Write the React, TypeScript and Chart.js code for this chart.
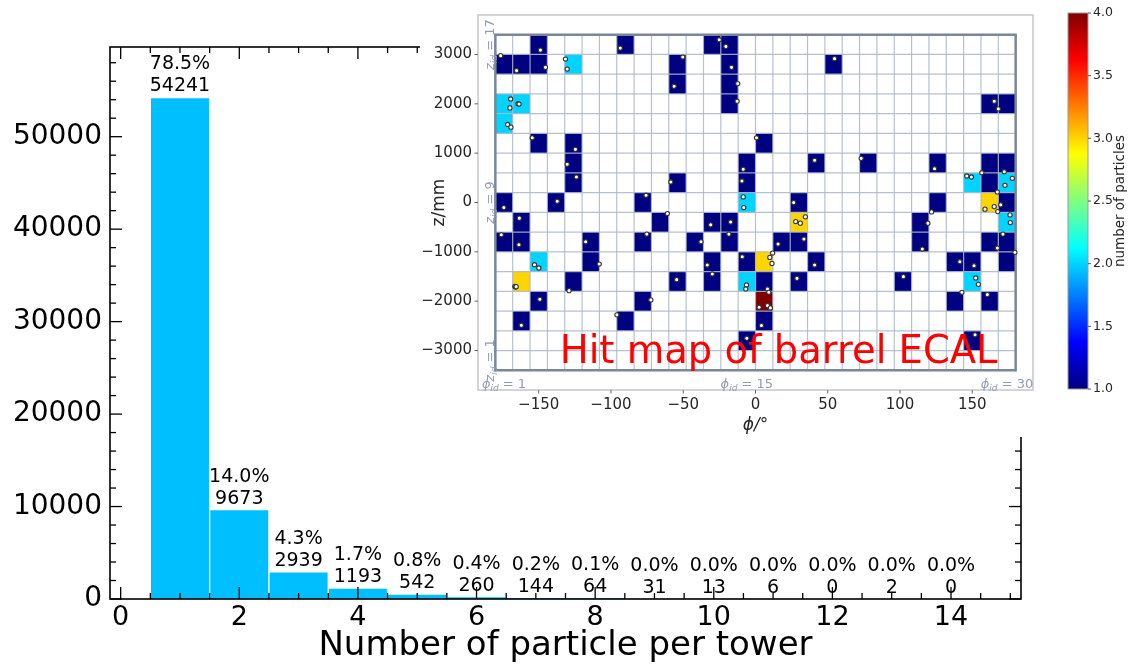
import React, { useEffect, useRef } from "react";
import { Chart, registerables } from "chart.js";

Chart.register(...registerables);

const FONT = '"DejaVu Sans", "Liberation Sans", sans-serif';
Chart.defaults.font.family = FONT;

// ---------- Histogram data ----------
const binCenters = [1, 2, 3, 4, 5, 6, 7, 8, 9, 10, 11, 12, 13, 14];
const binCounts = [54241, 9673, 2939, 1193, 542, 260, 144, 64, 31, 13, 6, 0, 2, 0];
const histXTicks = [0, 2, 4, 6, 8, 10, 12, 14];
const histYTicks = [0, 10000, 20000, 30000, 40000, 50000];
const histXLabel = "Number of particle per tower";

// ---------- Hit map data ----------
const phiStart = -180;
const phiStep = 12;
const phiCount = 30;
const zStart = -3400;
const zStep = 400;
const zCount = 17;

const cellPhiId = [
  3, 8, 13, 14,
  1, 2, 3, 5, 11, 14, 20,
  11, 14,
  1, 2, 14, 29, 30,
  1,
  3, 5, 16,
  5, 15, 19, 22, 26, 29, 30,
  5, 11, 15, 28, 29, 30,
  1, 4, 9, 15, 18, 26, 29, 30,
  2, 10, 13, 14, 18, 25, 30,
  1, 2, 6, 9, 12, 14, 17, 18, 25, 29, 30,
  3, 6, 13, 15, 16, 19, 27, 28, 30,
  2, 5, 11, 13, 15, 16, 18, 24, 28,
  3, 9, 16, 27, 29,
  2, 8, 16,
  15, 28,
];
const cellZId = [
  17, 17, 17, 17,
  16, 16, 16, 16, 16, 16, 16,
  15, 15,
  14, 14, 14, 14, 14,
  13,
  12, 12, 12,
  11, 11, 11, 11, 11, 11, 11,
  10, 10, 10, 10, 10, 10,
  9, 9, 9, 9, 9, 9, 9, 9,
  8, 8, 8, 8, 8, 8, 8,
  7, 7, 7, 7, 7, 7, 7, 7, 7, 7, 7,
  6, 6, 6, 6, 6, 6, 6, 6, 6,
  5, 5, 5, 5, 5, 5, 5, 5, 5,
  4, 4, 4, 4, 4,
  3, 3, 3,
  2, 2,
];
const cellCount = [
  1, 1, 1, 1,
  1, 1, 1, 2, 1, 1, 1,
  1, 1,
  2, 2, 1, 1, 1,
  2,
  1, 1, 1,
  1, 1, 1, 1, 1, 1, 1,
  1, 1, 1, 2, 1, 2,
  1, 1, 1, 2, 1, 1, 3, 1,
  1, 1, 1, 1, 3, 1, 2,
  1, 1, 1, 1, 1, 1, 1, 1, 1, 1, 1,
  2, 1, 1, 1, 3, 1, 1, 1, 1,
  3, 1, 1, 1, 2, 1, 1, 1, 2,
  1, 1, 4, 1, 1,
  1, 1, 1,
  1, 1,
];

const hitPhi = [
  -148.8, -93.6, -25.1, -20.5,
  -176.3, -165.3, -145.3, -131.5, -130.3, -50.3, -16.6, 54.7,
  -56.3, -12.3,
  -169.4, -169.9, -164.3, -163.6, -12.7, 165.2, 168.0,
  -171.5, -169.2,
  -154.5, -124.6, 0.7,
  -130.3, -8.5, 40.9, 73.1, 123.9, 156.6, 172.1,
  -123.9, -58.6, -9.4, 146.2, 149.4, 167.3, 172.6, 177.7,
  -174.1, -137.2, -75.7, -8.5, -8.1, 26.4, 121.8, 158.8, 165.2, 167.6, 169.7,
  -163.4, -61.0, -31.0, -17.2, 27.8, 31.0, 34.5, 119.3, 176.1, 176.3,
  -175.9, -163.7, -117.5, -75.2, -37.7, -18.4, 15.6, 33.5, 115.4, 167.3, 171.2,
  -152.9, -149.9, -108.1, -33.4, -9.2, 9.9, 11.9, 11.4, 40.9, 141.4, 151.2, 179.5,
  -166.5, -166.0, -165.6, -129.0, -54.5, -29.9, -6.2, -6.7, 8.3, 28.7, 102.3, 152.4, 154.2,
  -149.2, -72.4, 2.5, 8.3, 10.3, 9.2, 142.8, 160.4,
  -162.0, -95.9, 4.1,
  -6.0, 151.9,
];
const hitZ = [
  3089, 3129, 3299, 3164,
  2976, 2673, 2739, 2907, 2705, 2948, 2739, 2915,
  2356, 2410,
  2099, 1917, 2002, 1995, 2053, 2053, 1897,
  1582, 1527,
  1311, 1077, 1311,
  774, 673, 855, 895, 685, 604, 624,
  517, 416, 436, 537, 517, 214, 349, 490,
  -103, 25, 147, 113, -103, -2, -190, -135, -83, -184, -48,
  -317, -224, -453, -395, -386, -418, -291, -418, -251, -406,
  -655, -857, -796, -640, -796, -640, -842, -741, -943, -923, -640,
  -1261, -1327, -1247, -1267, -1099, -1113, -1024, -1234, -1267, -1200, -1281, -1010,
  -1700, -1715, -1705, -1786, -1564, -1449, -1671, -1752, -1752, -1537, -1503, -1529, -1659,
  -1962, -1974, -2123, -2089, -2136, -1820, -1820, -1867,
  -2487, -2277, -2493,
  -2750, -2681,
];

const mapPhiTicks = [-150, -100, -50, 0, 50, 100, 150];
const mapZTicks = [-3000, -2000, -1000, 0, 1000, 2000, 3000];
const colorbarTicks = [1, 1.5, 2, 2.5, 3, 3.5, 4];
const colorMin = 1;
const colorMax = 4;
const mapTitle = "Hit map of barrel ECAL";
const colorbarLabel = "number of particles";
const zIdMarks = [17, 9, 1];
const phiIdMarks = [1, 15, 30];

// ---------- helpers ----------
function jet(t: number): string {
  const c = (v: number) => Math.round(255 * Math.max(0, Math.min(1, v)));
  return `rgb(${c(1.5 - Math.abs(4 * t - 3))},${c(1.5 - Math.abs(4 * t - 2))},${c(1.5 - Math.abs(4 * t - 1))})`;
}
const fmtNum = (v: number) => (v < 0 ? "\u2212" : "") + String(Math.abs(v));

function line(ctx: CanvasRenderingContext2D, x0: number, y0: number, x1: number, y1: number) {
  ctx.beginPath();
  ctx.moveTo(x0, y0);
  ctx.lineTo(x1, y1);
  ctx.stroke();
}

function drawIdLabel(
  ctx: CanvasRenderingContext2D,
  sym: string,
  num: number,
  cx: number,
  cy: number,
  rotate: boolean
) {
  const mainFont = `italic 13px ${FONT}`;
  const subFont = `italic 9px ${FONT}`;
  const restFont = `13px ${FONT}`;
  const rest = " = " + num;
  ctx.save();
  ctx.translate(cx, cy);
  if (rotate) ctx.rotate(-Math.PI / 2);
  ctx.fillStyle = "#8f9db3";
  ctx.textBaseline = "alphabetic";
  ctx.textAlign = "left";
  ctx.font = mainFont;
  const w1 = ctx.measureText(sym).width;
  ctx.font = subFont;
  const w2 = ctx.measureText("id").width;
  ctx.font = restFont;
  const w3 = ctx.measureText(rest).width;
  let x = -(w1 + w2 + w3) / 2;
  const base = 4;
  ctx.font = mainFont;
  ctx.fillText(sym, x, base);
  x += w1;
  ctx.font = subFont;
  ctx.fillText("id", x, base + 3);
  x += w2;
  ctx.font = restFont;
  ctx.fillText(rest, x, base);
  ctx.restore();
}

// ---------- main histogram ----------
function histConfig(): any {
  const total = binCounts.reduce((a, b) => a + b, 0);
  const framePlugin = {
    id: "histFrame",
    afterDatasetsDraw(chart: any) {
      const ctx: CanvasRenderingContext2D = chart.ctx;
      const meta = chart.getDatasetMeta(0);
      ctx.save();
      ctx.fillStyle = "#000";
      ctx.font = `19px ${FONT}`;
      ctx.textAlign = "center";
      ctx.textBaseline = "alphabetic";
      meta.data.forEach((bar: any, i: number) => {
        const p = bar.getProps(["x", "y"], true);
        const pct = ((binCounts[i] / total) * 100).toFixed(1) + "%";
        ctx.fillText(String(binCounts[i]), p.x, p.y - 6);
        ctx.fillText(pct, p.x, p.y - 28);
      });
      ctx.restore();
    },
    afterDraw(chart: any) {
      const ctx: CanvasRenderingContext2D = chart.ctx;
      const a = chart.chartArea;
      const xs = chart.scales.x;
      const ys = chart.scales.y;
      ctx.save();
      ctx.strokeStyle = "#000";
      ctx.lineWidth = 1.3;
      for (let v = 0; v <= 15; v += 0.5) {
        const px = xs.getPixelForValue(v);
        const L = v % 2 === 0 ? 12 : 6;
        line(ctx, px, a.bottom, px, a.bottom - L);
        line(ctx, px, a.top, px, a.top + L);
      }
      for (let v = 0; v <= 58000; v += 2000) {
        const py = ys.getPixelForValue(v);
        const L = v % 10000 === 0 ? 12 : 6;
        line(ctx, a.left, py, a.left + L, py);
        line(ctx, a.right, py, a.right - L, py);
      }
      ctx.lineWidth = 1.6;
      ctx.strokeRect(a.left, a.top, a.right - a.left, a.bottom - a.top);
      ctx.restore();
    },
  };
  return {
    type: "bar",
    data: {
      datasets: [
        {
          data: binCenters.map((x, i) => ({ x, y: binCounts[i] })),
          backgroundColor: "#00BFFF",
          borderColor: "#ffffff",
          borderWidth: 1,
          borderSkipped: "bottom",
          barPercentage: 1,
          categoryPercentage: 1,
        },
      ],
    },
    options: {
      animation: false,
      responsive: false,
      devicePixelRatio: 1,
      layout: { padding: { left: 0, top: 47, right: 107, bottom: 0 } },
      plugins: { legend: { display: false }, tooltip: { enabled: false } },
      scales: {
        x: {
          type: "linear",
          offset: false,
          min: -0.18,
          max: 15.18,
          afterBuildTicks: (s: any) => {
            s.ticks = histXTicks.map((v) => ({ value: v }));
          },
          afterFit: (s: any) => {
            s.height = 68;
          },
          grid: { display: false, drawTicks: false },
          border: { display: false },
          ticks: {
            autoSkip: false,
            maxRotation: 0,
            padding: 3,
            color: "#000",
            font: { size: 27, family: FONT },
            callback: (v: any) => fmtNum(Number(v)),
          },
          title: {
            display: true,
            text: histXLabel,
            color: "#000",
            font: { size: 34, family: FONT },
            padding: { top: 0, bottom: 0 },
          },
        },
        y: {
          min: 0,
          max: 59700,
          afterBuildTicks: (s: any) => {
            s.ticks = histYTicks.map((v) => ({ value: v }));
          },
          afterFit: (s: any) => {
            s.width = 110;
          },
          grid: { display: false, drawTicks: false },
          border: { display: false },
          ticks: {
            padding: 8,
            color: "#000",
            font: { size: 28, family: FONT },
            callback: (v: any) => fmtNum(Number(v)),
          },
        },
      },
    },
    plugins: [framePlugin],
  };
}

// ---------- hit map inset ----------
function mapConfig(): any {
  const mapPlugin = {
    id: "mapCells",
    beforeDraw(chart: any) {
      const ctx: CanvasRenderingContext2D = chart.ctx;
      ctx.save();
      ctx.fillStyle = "#ffffff";
      ctx.fillRect(0, 0, chart.width, chart.height);
      ctx.restore();
    },
    beforeDatasetsDraw(chart: any) {
      const ctx: CanvasRenderingContext2D = chart.ctx;
      const xs = chart.scales.x;
      const ys = chart.scales.y;
      const a = chart.chartArea;
      ctx.save();
      // cells
      cellPhiId.forEach((pid, i) => {
        const p0 = phiStart + phiStep * (pid - 1);
        const z0 = zStart + zStep * (cellZId[i] - 1);
        const x0 = xs.getPixelForValue(p0);
        const x1 = xs.getPixelForValue(p0 + phiStep);
        const y0 = ys.getPixelForValue(z0 + zStep);
        const y1 = ys.getPixelForValue(z0);
        ctx.fillStyle = jet((cellCount[i] - colorMin) / (colorMax - colorMin));
        ctx.fillRect(x0, y0, x1 - x0, y1 - y0);
      });
      // grid
      const phiEnd = phiStart + phiStep * phiCount;
      const zEnd = zStart + zStep * zCount;
      ctx.strokeStyle = "rgba(170,182,198,0.85)";
      ctx.lineWidth = 1.2;
      for (let k = 1; k < phiCount; k++) {
        const px = xs.getPixelForValue(phiStart + phiStep * k);
        line(ctx, px, ys.getPixelForValue(zEnd), px, ys.getPixelForValue(zStart));
      }
      for (let k = 1; k < zCount; k++) {
        const py = ys.getPixelForValue(zStart + zStep * k);
        line(ctx, xs.getPixelForValue(phiStart), py, xs.getPixelForValue(phiEnd), py);
      }
      // inner frame
      ctx.strokeStyle = "#7a8798";
      ctx.lineWidth = 2.5;
      const fx0 = xs.getPixelForValue(phiStart);
      const fx1 = xs.getPixelForValue(phiEnd);
      const fy0 = ys.getPixelForValue(zEnd);
      const fy1 = ys.getPixelForValue(zStart);
      ctx.strokeRect(fx0, fy0, fx1 - fx0, fy1 - fy0);
      // outer frame
      ctx.strokeStyle = "#c6c6c6";
      ctx.lineWidth = 1.5;
      ctx.strokeRect(a.left, a.top, a.right - a.left, a.bottom - a.top);
      // outward ticks
      ctx.strokeStyle = "#666";
      ctx.lineWidth = 1;
      mapPhiTicks.forEach((v) => {
        const px = xs.getPixelForValue(v);
        line(ctx, px, a.bottom, px, a.bottom + 3.5);
      });
      mapZTicks.forEach((v) => {
        const py = ys.getPixelForValue(v);
        line(ctx, a.left, py, a.left - 3.5, py);
      });
      // id annotations
      zIdMarks.forEach((id) => {
        const zc = zStart + zStep * (id - 0.5);
        drawIdLabel(ctx, "z", id, xs.getPixelForValue(-184), ys.getPixelForValue(zc), true);
      });
      phiIdMarks.forEach((id) => {
        const pc = phiStart + phiStep * (id - 0.5);
        drawIdLabel(ctx, "\u03d5", id, xs.getPixelForValue(pc), ys.getPixelForValue(-3679), false);
      });
      ctx.restore();
    },
    afterDatasetsDraw(chart: any) {
      const ctx: CanvasRenderingContext2D = chart.ctx;
      const xs = chart.scales.x;
      const ys = chart.scales.y;
      ctx.save();
      ctx.fillStyle = "#ff0000";
      ctx.font = `38.5px ${FONT}`;
      ctx.textAlign = "center";
      ctx.textBaseline = "alphabetic";
      ctx.fillText(mapTitle, xs.getPixelForValue(16), ys.getPixelForValue(-3260));
      ctx.restore();
    },
  };
  return {
    type: "scatter",
    data: {
      datasets: [
        {
          data: hitPhi.map((p, i) => ({ x: p, y: hitZ[i] })),
          pointRadius: 2.1,
          pointBackgroundColor: "#ffffff",
          pointBorderColor: "#333333",
          pointBorderWidth: 1.1,
        },
      ],
    },
    options: {
      animation: false,
      responsive: false,
      devicePixelRatio: 1,
      layout: { padding: { left: 0, top: 13, right: 7, bottom: 0 } },
      plugins: { legend: { display: false }, tooltip: { enabled: false } },
      scales: {
        x: {
          type: "linear",
          min: -192,
          max: 192,
          afterBuildTicks: (s: any) => {
            s.ticks = mapPhiTicks.map((v) => ({ value: v }));
          },
          afterFit: (s: any) => {
            s.height = 47;
          },
          grid: { display: false, drawTicks: false },
          border: { display: false },
          ticks: {
            autoSkip: false,
            maxRotation: 0,
            padding: 6,
            color: "#262626",
            font: { size: 15, family: FONT },
            callback: (v: any) => fmtNum(Number(v)),
          },
          title: {
            display: true,
            text: "\u03d5/\u00b0",
            color: "#262626",
            font: { size: 17, family: FONT, style: "italic" },
            padding: { top: 0, bottom: 1 },
          },
        },
        y: {
          type: "linear",
          min: -3800,
          max: 3800,
          afterBuildTicks: (s: any) => {
            s.ticks = mapZTicks.map((v) => ({ value: v }));
          },
          afterFit: (s: any) => {
            s.width = 58;
          },
          grid: { display: false, drawTicks: false },
          border: { display: false },
          ticks: {
            padding: 6,
            color: "#262626",
            font: { size: 15, family: FONT },
            callback: (v: any) => fmtNum(Number(v)),
          },
          title: {
            display: true,
            text: "z/mm",
            color: "#262626",
            font: { size: 17, family: FONT },
            padding: { top: 9, bottom: 0 },
          },
        },
      },
    },
    plugins: [mapPlugin],
  };
}

// ---------- colorbar ----------
function colorbarConfig(): any {
  const cbPlugin = {
    id: "colorbar",
    beforeDraw(chart: any) {
      const ctx: CanvasRenderingContext2D = chart.ctx;
      ctx.save();
      ctx.fillStyle = "#ffffff";
      ctx.fillRect(0, 0, chart.width, chart.height);
      ctx.restore();
    },
    afterDraw(chart: any) {
      const ctx: CanvasRenderingContext2D = chart.ctx;
      const a = chart.chartArea;
      const ys = chart.scales.y;
      ctx.save();
      const yLo = ys.getPixelForValue(colorMin);
      const yHi = ys.getPixelForValue(colorMax);
      const g = ctx.createLinearGradient(0, yLo, 0, yHi);
      for (let k = 0; k <= 40; k++) g.addColorStop(k / 40, jet(k / 40));
      ctx.fillStyle = g;
      ctx.fillRect(a.left, yHi, a.right - a.left, yLo - yHi);
      ctx.strokeStyle = "#9a9a9a";
      ctx.lineWidth = 1;
      ctx.strokeRect(a.left, yHi, a.right - a.left, yLo - yHi);
      ctx.strokeStyle = "#555";
      colorbarTicks.forEach((v) => {
        const py = ys.getPixelForValue(v);
        line(ctx, a.right, py, a.right + 3, py);
      });
      ctx.translate(80, (yLo + yHi) / 2);
      ctx.rotate(-Math.PI / 2);
      ctx.fillStyle = "#262626";
      ctx.font = `13.5px ${FONT}`;
      ctx.textAlign = "center";
      ctx.textBaseline = "middle";
      ctx.fillText(colorbarLabel, 0, 0);
      ctx.restore();
    },
  };
  return {
    type: "scatter",
    data: { datasets: [{ data: [] as any[] }] },
    options: {
      animation: false,
      responsive: false,
      devicePixelRatio: 1,
      layout: { padding: { left: 28, top: 13, right: 0, bottom: 48 } },
      plugins: { legend: { display: false }, tooltip: { enabled: false } },
      scales: {
        x: { display: false, min: 0, max: 1 },
        y: {
          position: "right",
          min: colorMin,
          max: colorMax,
          afterBuildTicks: (s: any) => {
            s.ticks = colorbarTicks.map((v) => ({ value: v }));
          },
          afterFit: (s: any) => {
            s.width = 40;
          },
          grid: { display: false, drawTicks: false },
          border: { display: false },
          ticks: {
            padding: 5,
            color: "#262626",
            font: { size: 12.5, family: FONT },
            callback: (v: any) => Number(v).toFixed(1),
          },
        },
      },
    },
    plugins: [cbPlugin],
  };
}

export default function App() {
  const mainRef = useRef<HTMLCanvasElement>(null);
  const mapRef = useRef<HTMLCanvasElement>(null);
  const cbRef = useRef<HTMLCanvasElement>(null);

  useEffect(() => {
    const charts = [
      new Chart(mainRef.current as HTMLCanvasElement, histConfig()),
      new Chart(mapRef.current as HTMLCanvasElement, mapConfig()),
      new Chart(cbRef.current as HTMLCanvasElement, colorbarConfig()),
    ];
    return () => charts.forEach((c) => c.destroy());
  }, []);

  return (
    <div style={{ position: "absolute", left: 0, top: 0, width: 1128, height: 667, background: "#fff", overflow: "hidden" }}>
      <canvas ref={mainRef} width={1128} height={667} style={{ position: "absolute", left: 0, top: 0, width: 1128, height: 667 }} />
      <canvas ref={mapRef} width={620} height={437} style={{ position: "absolute", left: 420, top: 0, width: 620, height: 437 }} />
      <canvas ref={cbRef} width={88} height={437} style={{ position: "absolute", left: 1040, top: 0, width: 88, height: 437 }} />
    </div>
  );
}
